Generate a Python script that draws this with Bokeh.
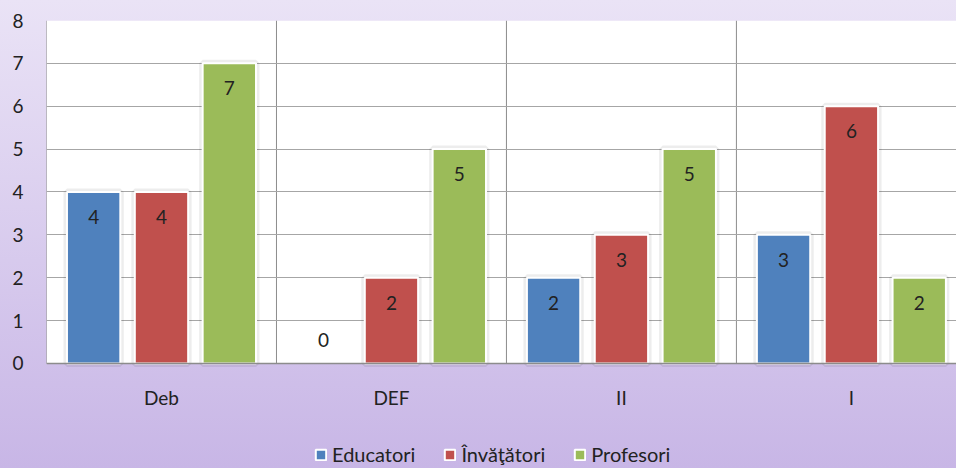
from bokeh.plotting import figure
from bokeh.models import (ColumnDataSource, FixedTicker, Legend, LegendItem,
                          Range1d, GlobalInlineStyleSheet)
from bokeh.core.properties import value
from bokeh.embed import file_html
from bokeh.resources import INLINE

categories = ["Deb", "DEF", "II", "I"]
series_names = ["Educatori", "Învăţători", "Profesori"]
educatori = [4, 0, 2, 3]
invatatori = [4, 2, 3, 6]
profesori = [7, 5, 5, 2]
y_ticks = [0, 1, 2, 3, 4, 5, 6, 7, 8]

colors = ["#4f81bd", "#c0504d", "#9bbb59"]
offsets = [-0.295, 0.0, 0.295]
bar_w = 0.232
FONT = "Lato"
FS = "19px"
X_END = 3.957
Y_MAX = 8

p = figure(width=956, height=468, x_range=Range1d(0, X_END), y_range=Range1d(-2.449, Y_MAX),
           output_backend="svg", toolbar_location=None,
           min_border_left=46, min_border_top=20, min_border_right=0,
           min_border_bottom=0)

p.stylesheets = [GlobalInlineStyleSheet(css=(
    "html{min-height:100%;background:linear-gradient(to bottom,#eae3f6 0%,#c8b6e6 100%);}"
    "body{background:transparent;}"))]
p.border_fill_alpha = 0
p.background_fill_alpha = 0
p.outline_line_color = None

# white plot area (value range 0..8 over all categories)
p.quad(left=[0], right=[X_END], bottom=[0], top=[Y_MAX], fill_color="white",
       line_color=None, level="image")

# grids
p.xgrid.visible = False
p.xaxis.visible = False
p.ygrid.ticker = FixedTicker(ticks=y_ticks)
p.ygrid.grid_line_color = "#a6a6a6"
p.ygrid.grid_line_width = 1
bounds = list(range(0, len(categories) + 1))
p.segment(x0=bounds, x1=bounds, y0=[0] * len(bounds), y1=[Y_MAX] * len(bounds),
          line_color="#8c8c8c", line_width=1, level="underlay")

# y axis
p.yaxis.ticker = FixedTicker(ticks=y_ticks)
p.yaxis.axis_line_color = None
p.yaxis.major_tick_line_color = None
p.yaxis.minor_tick_line_color = None
p.yaxis.major_label_text_font = FONT
p.yaxis.major_label_text_font_size = FS
p.yaxis.major_label_text_color = "#222222"
p.yaxis.major_label_standoff = 17

# category labels below the plot area
p.text(x=[i + 0.5 for i in range(len(categories))], y=[0] * len(categories),
       text=categories, y_offset=34, text_align="center", text_baseline="middle",
       text_font=value(FONT), text_font_size=FS, text_color="#222222")

items = []
for k, (name, vals) in enumerate(zip(series_names, [educatori, invatatori, profesori])):
    xs = [i + 0.5 + offsets[k] for i in range(len(categories))]
    src = ColumnDataSource(dict(
        x=xs, top=vals, label=[str(v) for v in vals],
        yoff=[25 if v > 0 else -23 for v in vals],
        lw=[2 if v > 0 else 0 for v in vals]))
    shadow = ColumnDataSource(dict(x=[x for x, v in zip(xs, vals) if v > 0],
                                   top=[v for v in vals if v > 0]))
    p.vbar(x="x", top="top", width=bar_w, source=shadow, fill_color=None,
           line_color="#000000", line_alpha=0.07, line_width=7)
    r = p.vbar(x="x", top="top", width=bar_w, source=src, fill_color=colors[k],
               line_color="white", line_width="lw")
    p.text(x="x", y="top", text="label", y_offset="yoff", source=src,
           text_align="center", text_baseline="middle",
           text_font=value(FONT), text_font_size=FS, text_color="#222222")
    items.append(LegendItem(label=name, renderers=[r]))

# bottom edge of the plot area, drawn over the bars' base
p.segment(x0=[0], x1=[X_END], y0=[0], y1=[0], line_color="#8c8c8c", line_width=1.5)

legend = Legend(items=items, orientation="horizontal", location=(266, 0),
                label_text_font=FONT, label_text_font_size="20px",
                label_text_color="#222222", glyph_width=13, glyph_height=13,
                spacing=28, label_standoff=5, background_fill_alpha=0,
                border_line_alpha=0, margin=0, padding=2)
p.add_layout(legend)

open("out.html", "w").write(file_html(p, INLINE))
